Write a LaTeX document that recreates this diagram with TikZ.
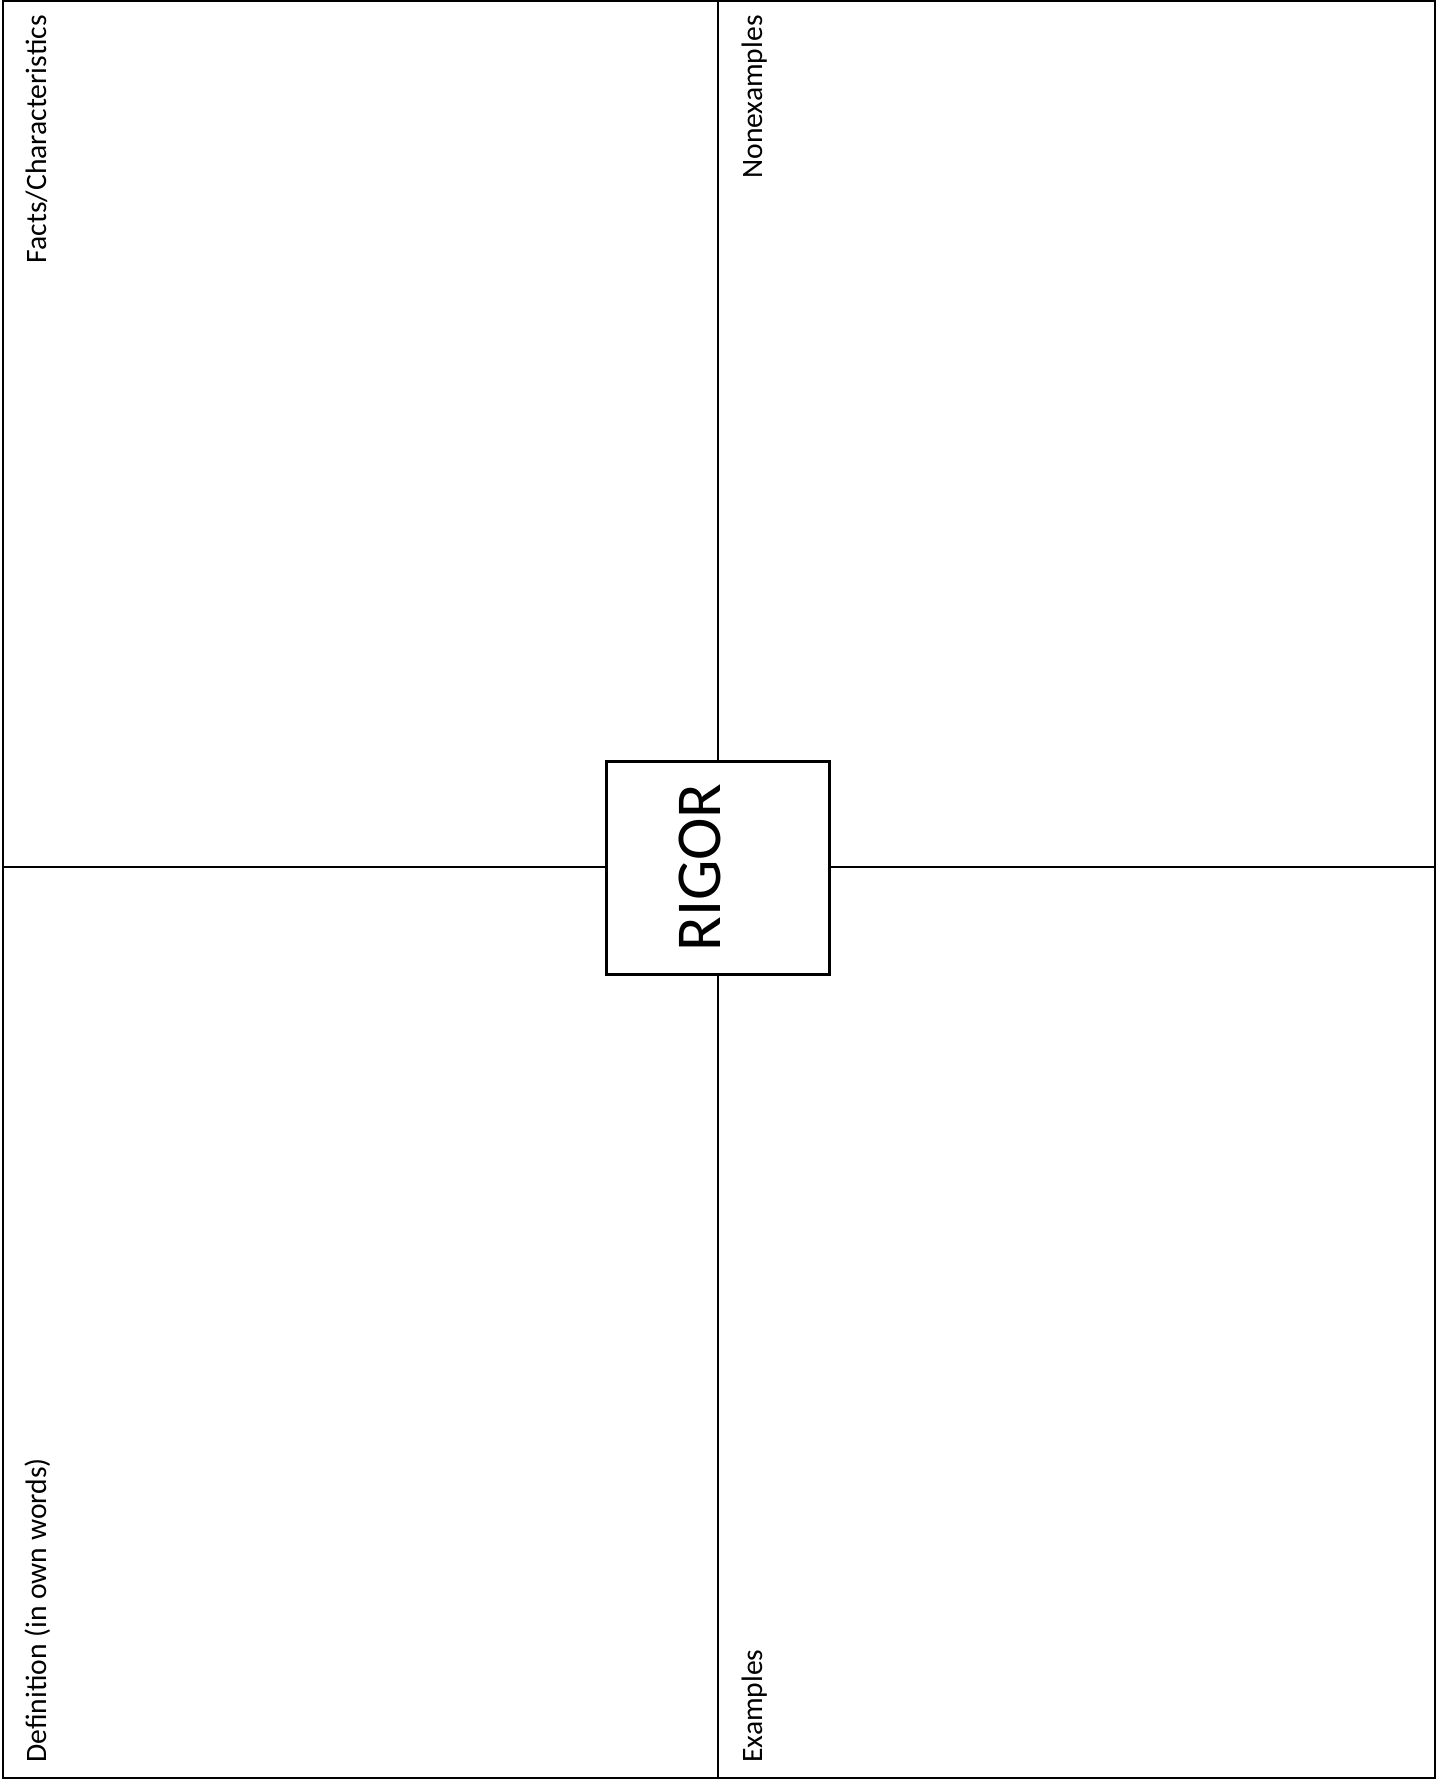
\documentclass[tikz,border=0pt]{standalone}
\usepackage{fontspec}
\setmainfont{Carlito}
\usepackage{tikz}
\usetikzlibrary{positioning, calc}

\tikzset{
    pane/.style={draw, line width=1.1pt, inner sep=0pt},
    rule/.style={line width=1pt},
    corner/.style={rotate=90, inner sep=0pt, font=\fontsize{14.8}{18}\selectfont},
}

\begin{document}
\begin{tikzpicture}[x=0.5pt, y=-0.5pt]
    \useasboundingbox (0,0) rectangle (1447,1781);

    % Frame and center
    \node[pane, minimum width=716pt, minimum height=888.5pt] (frame) at (719,889.5) {};
    \node[pane, fill=white, minimum width=111.5pt, minimum height=106.5pt] (core) at (718,868) {};
    \node[rotate=90, anchor=base, inner sep=0pt, font=\fontsize{32}{38}\selectfont] (word) at (720.5,867.5) {RIGOR};

    % Cross lines
    \draw[rule] (core.north) -- (core.north |- frame.north);
    \draw[rule] (core.south) -- (core.south |- frame.south);
    \draw[rule] ($(core.west)+(0,-1.5)$) -- ($(core.west -| frame.west)+(0,-1.5)$);
    \draw[rule] ($(core.east)+(0,-1.5)$) -- ($(core.east -| frame.east)+(0,-1.5)$);

    % Labels
    \node[corner, anchor=base east] (facts) at (46,15) {Facts/Characteristics};
    \node[corner, anchor=base east] (nonex) at (762,15) {Nonexamples};
    \node[corner, anchor=base west] (defn) at (46,1763) {Definition (in own words)};
    \node[corner, anchor=base west] (exmp) at (762,1763) {Examples};
\end{tikzpicture}
\end{document}
